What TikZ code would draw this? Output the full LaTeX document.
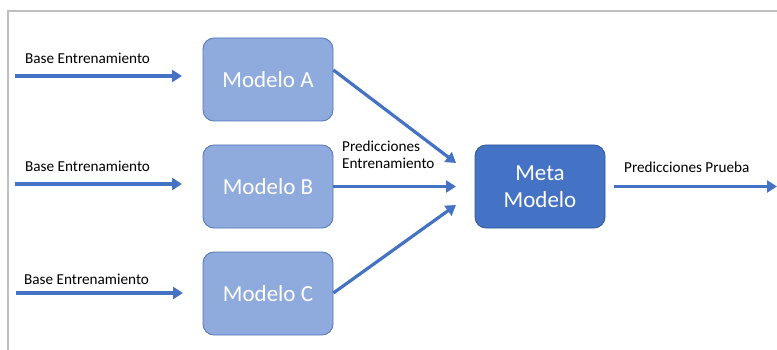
\documentclass[tikz,border=0pt]{standalone}
\usepackage{fontspec}
\setmainfont{Carlito}
\usetikzlibrary{arrows.meta}
\definecolor{arrowblue}{HTML}{4472C4}
\definecolor{lightfill}{HTML}{8FAADC}
\definecolor{lightedge}{HTML}{4F74B8}
\definecolor{darkfill}{HTML}{4472C4}
\definecolor{darkedge}{HTML}{2F5597}
\definecolor{framegray}{HTML}{BFBFBF}
\tikzset{
  model/.style={draw=lightedge, fill=lightfill, line width=0.8pt, rounded corners=11pt,
    minimum width=130pt, minimum height=83pt, inner sep=0pt,
    text=white, font=\fontsize{23}{27}\selectfont},
  meta/.style={model, draw=darkedge, fill=darkfill, align=center},
  flow/.style={draw=arrowblue, line width=3.2pt, -{Triangle[length=10pt,width=12pt]}},
  lbl/.style={anchor=west, inner sep=0pt, font=\fontsize{15.2}{17}\selectfont, text=black, align=left}
}
\begin{document}
\begin{tikzpicture}[x=1pt,y=-1pt]
\useasboundingbox (0,0) rectangle (777,350);
% page frame
\draw[framegray, line width=1.5pt] (8,350) -- (8,11) -- (777,11);

% boxes
\node[model] (A) at (268,79.5) {Modelo A};
\node[model] (B) at (268,186.5) {Modelo B};
\node[model] (C) at (268,293.5) {Modelo C};
\node[meta] (M) at (540,186.5) {Meta\\Modelo};

% inputs
\coordinate (ia) at (15,76);
\coordinate (ib) at (15,184);
\coordinate (ic) at (16,293);
\coordinate (ta) at (182,76);
\coordinate (tb) at (182,184);
\coordinate (tc) at (183,293);
\draw[flow] (ia) -- (ta);
\draw[flow] (ib) -- (tb);
\draw[flow] (ic) -- (tc);
\node[lbl] (la) at (25,58) {Base Entrenamiento};
\node[lbl] (lb) at (25,166) {Base Entrenamiento};
\node[lbl] (lc) at (24,279) {Base Entrenamiento};

% predictions into the meta model
\coordinate (pa) at (456,163);
\coordinate (pb) at (456,186.5);
\coordinate (pc) at (456,205);
\draw[flow] (A.east |- 0,70) -- (pa);
\draw[flow] (B.east) -- (pb);
\draw[flow] (C.east |- 0,293) -- (pc);
\node[lbl] (lp) at (342,155) {Predicciones\\Entrenamiento};

% output
\coordinate (out) at (777,186.5);
\draw[flow] (M.east) ++(9,0) -- (out);
\node[lbl] (lo) at (624,167) {Predicciones Prueba};
\end{tikzpicture}
\end{document}
